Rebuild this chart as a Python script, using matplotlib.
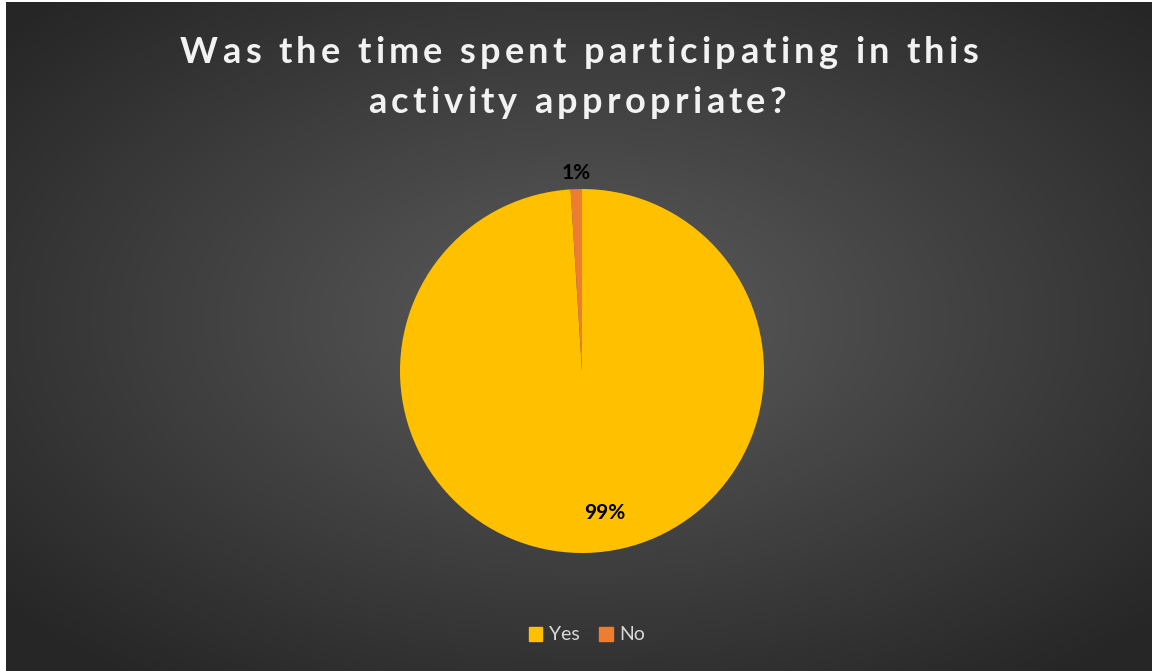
import numpy as np
import matplotlib
matplotlib.use("Agg")
import matplotlib.pyplot as plt

# Survey responses
categories = ["Yes", "No"]
values = [99, 1]
colors = ["#FFC000", "#ED7D31"]
title_lines = ["Was the time spent participating in this", "activity appropriate?"]

W, H, DPI = 1152, 671, 100
fig = plt.figure(figsize=(W / DPI, H / DPI), dpi=DPI, facecolor="white")

# Dark radial-gradient chart area
left_px, top_px = 6, 2
bg = fig.add_axes([left_px / W, 0, 1 - left_px / W, 1 - top_px / H])
bg.set_axis_off()
nx, ny = 400, 240
xx, yy = np.meshgrid(np.linspace(-1, 1, nx), np.linspace(-1, 1, ny))
r = np.sqrt((xx - 0.02) ** 2 + (yy + 0.05) ** 2)
r = np.clip(r / 1.35, 0, 1)
lum = (92 - (92 - 38) * r) / 255.0
img = np.dstack([lum, lum, lum])
bg.imshow(img, aspect="auto", extent=[0, 1, 0, 1], interpolation="bicubic")

# Title drawn character by character to get wide letter spacing
renderer = fig.canvas.get_renderer()
title_style = dict(fontsize=26, fontweight="bold", family="Lato", color="#F2F2F2")
tracking = 4.3  # px between characters


def text_width(s):
    t = fig.text(0, 0, s, **title_style)
    w = t.get_window_extent(renderer).width
    t.remove()
    return w


def spaced_line(line, center_x, baseline_y):
    space_w = text_width("a a") - text_width("aa")
    widths = [space_w if ch == " " else text_width(ch) for ch in line]
    total = sum(widths) + tracking * (len(line) - 1)
    x = center_x - total / 2
    for ch, w in zip(line, widths):
        if ch != " ":
            fig.text(x / W, 1 - baseline_y / H, ch, ha="left", va="baseline",
                     **title_style)
        x += w + tracking


spaced_line(title_lines[0], 579, 63)
spaced_line(title_lines[1], 577, 113)

# Pie
cx, cy, R = 582, 371, 182
scale = 1.25
ax = fig.add_axes([(cx - R * scale) / W, (H - cy - R * scale) / H,
                   2 * R * scale / W, 2 * R * scale / H])
ax.set_xlim(-scale, scale)
ax.set_ylim(-scale, scale)
ax.set_aspect("equal")
ax.set_axis_off()
wedges, _ = ax.pie(values, colors=colors, startangle=90, counterclock=False,
                   radius=1, wedgeprops=dict(linewidth=0))

total = sum(values)
label_style = dict(ha="center", va="center", fontsize=15, fontweight="bold",
                   family="Lato", color="black")
for w, v in zip(wedges, values):
    mid = np.deg2rad((w.theta1 + w.theta2) / 2)
    pct = f"{round(100 * v / total)}%"
    if v / total < 0.05:
        d = 1.09
        ax.text(d * np.cos(mid), d * np.sin(mid), pct, **label_style)
    else:
        d = 0.78
        ax.text(d * np.cos(mid) + 0.10, d * np.sin(mid), pct, **label_style)

# Legend
handles = [plt.Rectangle((0, 0), 1, 1, color=c) for c in colors]
fig.legend(handles, categories, loc="center", bbox_to_anchor=(587 / W, 1 - 635 / H),
           ncol=2, frameon=False, labelcolor="#D9D9D9",
           handlelength=0.7, handleheight=0.7, handletextpad=0.35,
           columnspacing=1.0, prop=dict(family="Lato", size=14))

fig.savefig("out.png", dpi=DPI, facecolor=fig.get_facecolor())
